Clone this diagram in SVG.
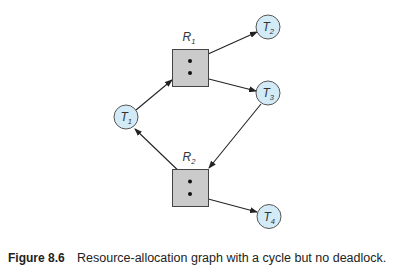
<svg xmlns="http://www.w3.org/2000/svg" width="397" height="276" viewBox="0 0 397 276">
<defs>
<marker id="ah" markerWidth="8" markerHeight="6" refX="7" refY="3" orient="auto" markerUnits="userSpaceOnUse">
<path d="M0,0 L8,3 L0,6 Z" fill="#222"/>
</marker>
<style>
.t{fill:#d2ebf7;stroke:#555;stroke-width:1}
.r{fill:#cbcbcb;stroke:#444;stroke-width:1}
.lbl{font-family:"Liberation Sans",Arial,sans-serif;font-style:italic;font-size:12px;fill:#333}
.sub{font-size:7.5px}
.e{stroke:#222;stroke-width:1.1;fill:none;marker-end:url(#ah)}
.dot{fill:#111}
.cap{font-family:"Liberation Sans",Arial,sans-serif;font-size:12.5px;fill:#222}
</style>
</defs>
<rect width="397" height="276" fill="#fff"/>
<g id="connectors">
<line class="e" x1="136" y1="110" x2="172" y2="80"/>
<line class="e" x1="197" y1="59" x2="257" y2="32"/>
<line class="e" x1="197" y1="76" x2="256" y2="91"/>
<line class="e" x1="261" y1="104" x2="209" y2="168"/>
<line class="e" x1="185" y1="177" x2="135" y2="129"/>
<line class="e" x1="197" y1="196" x2="257" y2="212"/>
</g>
<g id="R1">
<rect class="r" x="172.5" y="49.5" width="36" height="37"/>
<circle class="dot" cx="190" cy="61" r="2"/>
<circle class="dot" cx="190" cy="73" r="2"/>
<text class="lbl" x="182.5" y="41">R<tspan class="sub" dy="3">1</tspan></text>
</g>
<g id="R2">
<rect class="r" x="172.5" y="169.5" width="36" height="37"/>
<circle class="dot" cx="190" cy="181.5" r="2"/>
<circle class="dot" cx="190" cy="194" r="2"/>
<text class="lbl" x="182.5" y="161">R<tspan class="sub" dy="3">2</tspan></text>
</g>
<g id="T1">
<circle class="t" cx="126" cy="117" r="12"/>
<text class="lbl" x="120.5" y="121">T<tspan class="sub" dy="3">1</tspan></text>
</g>
<g id="T2">
<circle class="t" cx="268" cy="27" r="12"/>
<text class="lbl" x="262.5" y="31">T<tspan class="sub" dy="3">2</tspan></text>
</g>
<g id="T3">
<circle class="t" cx="268" cy="93" r="12"/>
<text class="lbl" x="262.5" y="97">T<tspan class="sub" dy="3">3</tspan></text>
</g>
<g id="T4">
<circle class="t" cx="269" cy="216.5" r="12"/>
<text class="lbl" x="263.5" y="220.5">T<tspan class="sub" dy="3">4</tspan></text>
</g>
<text class="cap" y="262.3"><tspan x="8" font-weight="bold" font-size="12px">Figure 8.6</tspan><tspan x="77">Resource-allocation graph with a cycle but no deadlock.</tspan></text>
</svg>
